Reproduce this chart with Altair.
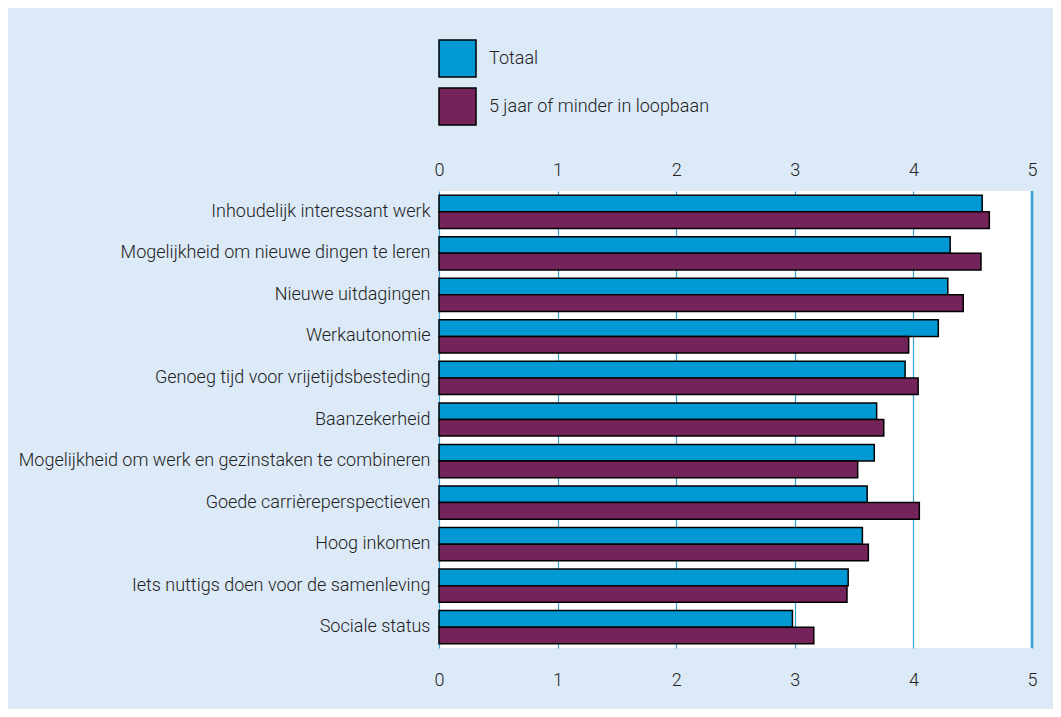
import altair as alt
import pandas as pd

categories = [
    "Inhoudelijk interessant werk",
    "Mogelijkheid om nieuwe dingen te leren",
    "Nieuwe uitdagingen",
    "Werkautonomie",
    "Genoeg tijd voor vrijetijdsbesteding",
    "Baanzekerheid",
    "Mogelijkheid om werk en gezinstaken te combineren",
    "Goede carrièreperspectieven",
    "Hoog inkomen",
    "Iets nuttigs doen voor de samenleving",
    "Sociale status",
]
totaal = [4.58, 4.31, 4.29, 4.21, 3.93, 3.69, 3.67, 3.61, 3.57, 3.45, 2.98]
jong = [4.64, 4.57, 4.42, 3.96, 4.04, 3.75, 3.53, 4.05, 3.62, 3.44, 3.16]
series = ["Totaal", "5 jaar of minder in loopbaan"]
colors = ["#0099d4", "#74245a"]
ticks = [0, 1, 2, 3, 4, 5]

rows = []
for c, t, j in zip(categories, totaal, jong):
    rows.append({"cat": c, "serie": series[0], "val": t})
    rows.append({"cat": c, "serie": series[1], "val": j})
df = pd.DataFrame(rows)

FONT = "Roboto"
FW = 300
FS = 18

xscale = alt.Scale(domain=[0, 5], nice=False)

bars = alt.Chart(df).mark_bar(stroke="black", strokeWidth=1.5).encode(
    x=alt.X("val:Q", scale=xscale,
            axis=alt.Axis(orient="top", values=ticks, title=None, grid=True,
                          gridColor="#3aa0d8", gridWidth=1.2, ticks=False,
                          domain=False, labelPadding=12, labelFlush=False,
                          format="d")),
    x2=alt.value(0),
    y=alt.Y("cat:N", sort=categories,
            scale=alt.Scale(paddingInner=0.2, paddingOuter=0.1),
            axis=alt.Axis(title=None, ticks=False, domain=False,
                          labelPadding=9, labelLimit=600)),
    yOffset=alt.YOffset("serie:N", sort=series),
    color=alt.Color("serie:N", sort=series,
                    scale=alt.Scale(domain=series, range=colors),
                    legend=alt.Legend(title=None, orient="none", legendX=-1,
                                      legendY=-152, symbolType="square",
                                      symbolSize=1369, symbolStrokeColor="black",
                                      symbolStrokeWidth=1.5, symbolOpacity=1,
                                      rowPadding=5, labelOffset=12,
                                      labelFontSize=FS, labelFont=FONT,
                                      labelFontWeight=FW, labelLimit=600,
                                      labelColor="#222", padding=0)),
)

bottom_axis = alt.Chart(pd.DataFrame({"v": [5]})).mark_rule(
    color="#3aa0d8", strokeWidth=2.5).encode(
    x=alt.X("v:Q", scale=xscale,
            axis=alt.Axis(orient="bottom", values=ticks, title=None, grid=False,
                          ticks=False, domain=False, labelPadding=23,
                          labelFlush=False, format="d")),
)

chart = alt.layer(bottom_axis, bars).resolve_axis(x="independent").properties(
    width=593,
    height=457,
    background="#dce9f6",
    padding={"left": 431, "top": 183, "right": 21, "bottom": 61},
    autosize=alt.AutoSizeParams(type="none"),
).configure_view(
    fill="white", stroke=None
).configure_axis(
    labelFont=FONT, labelFontSize=FS, labelFontWeight=FW, labelColor="#222"
)

chart.save("out.html", embed_options={"renderer": "svg", "actions": False})
